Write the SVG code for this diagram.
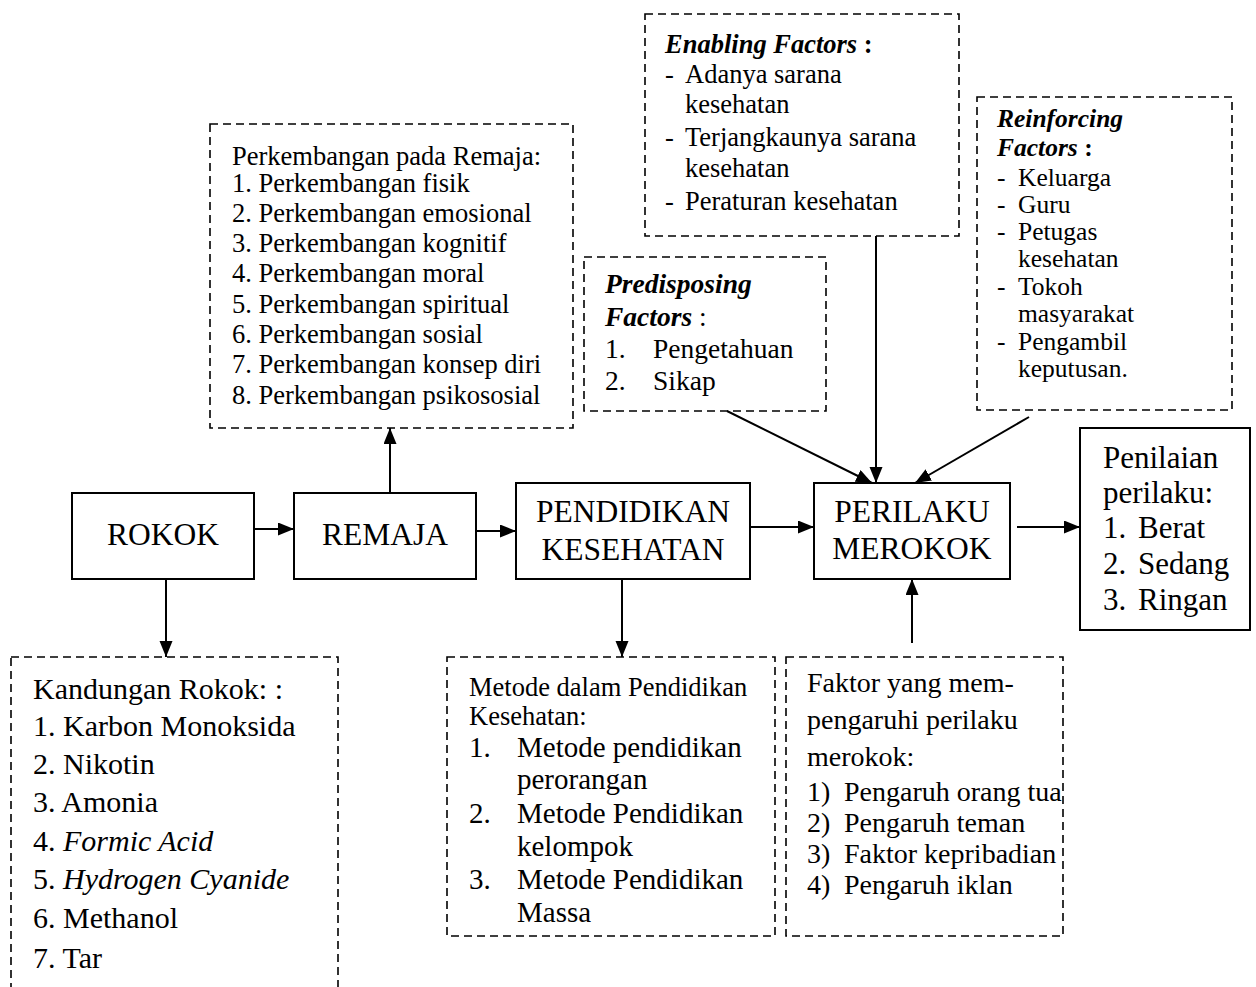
<svg xmlns="http://www.w3.org/2000/svg" width="1256" height="987" viewBox="0 0 1256 987">
<style>
text{font-family:"Liberation Serif","Times New Roman",serif;fill:#000}
.solid{fill:#fff;stroke:#000;stroke-width:2}
.dash{fill:#fff;stroke:#000;stroke-width:1.6;stroke-dasharray:8 5}
.lbl{font-size:31.5px;text-anchor:middle}
.bi{font-weight:bold;font-style:italic}
.b{font-weight:bold}
.i{font-style:italic}
.conn line{stroke:#000;stroke-width:2;marker-end:url(#ah)}
</style>
<defs>
<marker id="ah" markerUnits="userSpaceOnUse" markerWidth="17" markerHeight="14" refX="16" refY="6.5" orient="auto">
<path d="M0,0 L16,6.5 L0,13 z" fill="#000"/>
</marker>
</defs>
<rect width="1256" height="987" fill="#fff"/>

<g id="remaja-dev">
<rect class="dash" x="210" y="124" width="363" height="304"/>
<g style="font-size:26.5px">
<text x="232" y="165">Perkembangan pada Remaja:</text>
<text x="232" y="192">1. Perkembangan fisik</text>
<text x="232" y="222">2. Perkembangan emosional</text>
<text x="232" y="252">3. Perkembangan kognitif</text>
<text x="232" y="282">4. Perkembangan moral</text>
<text x="232" y="313">5. Perkembangan spiritual</text>
<text x="232" y="343">6. Perkembangan sosial</text>
<text x="232" y="373">7. Perkembangan konsep diri</text>
<text x="232" y="404">8. Perkembangan psikososial</text>
</g>
</g>

<g id="enabling">
<rect class="dash" x="645" y="14" width="314" height="222"/>
<g style="font-size:26.5px">
<text x="665" y="53"><tspan class="bi">Enabling Factors</tspan><tspan class="b"> :</tspan></text>
<text x="665" y="83">-</text><text x="685" y="83">Adanya sarana</text>
<text x="685" y="113">kesehatan</text>
<text x="665" y="146">-</text><text x="685" y="146">Terjangkaunya sarana</text>
<text x="685" y="177">kesehatan</text>
<text x="665" y="210">-</text><text x="685" y="210">Peraturan kesehatan</text>
</g>
</g>

<g id="predisposing">
<rect class="dash" x="584" y="257" width="242" height="154"/>
<g style="font-size:27.5px">
<text x="605" y="293" class="bi">Predisposing</text>
<text x="605" y="326"><tspan class="bi">Factors</tspan> :</text>
<text x="605" y="358">1.</text><text x="653" y="358">Pengetahuan</text>
<text x="605" y="390">2.</text><text x="653" y="390">Sikap</text>
</g>
</g>

<g id="reinforcing">
<rect class="dash" x="977" y="97" width="255" height="313"/>
<g style="font-size:25.5px">
<text x="997" y="127" class="bi">Reinforcing</text>
<text x="997" y="156"><tspan class="bi">Factors</tspan><tspan class="b"> :</tspan></text>
<text x="997" y="186">-</text><text x="1018" y="186">Keluarga</text>
<text x="997" y="213">-</text><text x="1018" y="213">Guru</text>
<text x="997" y="240">-</text><text x="1018" y="240">Petugas</text>
<text x="1018" y="267">kesehatan</text>
<text x="997" y="295">-</text><text x="1018" y="295">Tokoh</text>
<text x="1018" y="322">masyarakat</text>
<text x="997" y="350">-</text><text x="1018" y="350">Pengambil</text>
<text x="1018" y="377">keputusan.</text>
</g>
</g>

<g id="rokok">
<rect class="solid" x="72" y="493" width="182" height="86"/>
<text class="lbl" x="163" y="545">ROKOK</text>
</g>

<g id="remaja">
<rect class="solid" x="294" y="493" width="182" height="86"/>
<text class="lbl" x="385" y="545">REMAJA</text>
</g>

<g id="pendidikan">
<rect class="solid" x="516" y="483" width="234" height="96"/>
<text class="lbl" x="633" y="522">PENDIDIKAN</text>
<text class="lbl" x="633" y="560">KESEHATAN</text>
</g>

<g id="perilaku">
<rect class="solid" x="814" y="483" width="196" height="96"/>
<text class="lbl" x="912" y="522">PERILAKU</text>
<text class="lbl" x="912" y="559">MEROKOK</text>
</g>

<g id="penilaian">
<rect class="solid" x="1080" y="428" width="170" height="202"/>
<g style="font-size:31px">
<text x="1103" y="468">Penilaian</text>
<text x="1103" y="503">perilaku:</text>
<text x="1103" y="538">1.</text><text x="1138" y="538">Berat</text>
<text x="1103" y="574">2.</text><text x="1138" y="574">Sedang</text>
<text x="1103" y="610">3.</text><text x="1138" y="610">Ringan</text>
</g>
</g>

<g id="kandungan">
<rect class="dash" x="11" y="657" width="327" height="360"/>
<g style="font-size:30px">
<text x="33" y="699">Kandungan Rokok: :</text>
<text x="33" y="736">1. Karbon Monoksida</text>
<text x="33" y="774">2. Nikotin</text>
<text x="33" y="812">3. Amonia</text>
<text x="33" y="851">4. <tspan class="i">Formic Acid</tspan></text>
<text x="33" y="889">5. <tspan class="i">Hydrogen Cyanide</tspan></text>
<text x="33" y="928">6. Methanol</text>
<text x="33" y="968">7. Tar</text>
</g>
</g>

<g id="metode">
<rect class="dash" x="447" y="657" width="328" height="279"/>
<text x="469" y="696" style="font-size:26.5px">Metode dalam Pendidikan</text>
<text x="469" y="725" style="font-size:26.5px">Kesehatan:</text>
<g style="font-size:29px">
<text x="469" y="757">1.</text><text x="517" y="757">Metode pendidikan</text>
<text x="517" y="789">perorangan</text>
<text x="469" y="823">2.</text><text x="517" y="823">Metode Pendidikan</text>
<text x="517" y="856">kelompok</text>
<text x="469" y="889">3.</text><text x="517" y="889">Metode Pendidikan</text>
<text x="517" y="922">Massa</text>
</g>
</g>

<g id="faktor">
<rect class="dash" x="786" y="657" width="277" height="279"/>
<g style="font-size:28px">
<text x="807" y="692">Faktor yang mem-</text>
<text x="807" y="729">pengaruhi perilaku</text>
<text x="807" y="766">merokok:</text>
<text x="807" y="801">1)</text><text x="844" y="801">Pengaruh orang tua</text>
<text x="807" y="832">2)</text><text x="844" y="832">Pengaruh teman</text>
<text x="807" y="863">3)</text><text x="844" y="863">Faktor kepribadian</text>
<text x="807" y="894">4)</text><text x="844" y="894">Pengaruh iklan</text>
</g>
</g>

<g id="connectors" class="conn">
<line x1="254" y1="529" x2="294" y2="529"/>
<line x1="476" y1="531" x2="516" y2="531"/>
<line x1="750" y1="527" x2="814" y2="527"/>
<line x1="1017" y1="527" x2="1080" y2="527"/>
<line x1="390" y1="493" x2="390" y2="428"/>
<line x1="166" y1="579" x2="166" y2="657"/>
<line x1="622" y1="579" x2="622" y2="657"/>
<line x1="912" y1="643" x2="912" y2="579"/>
<line x1="727" y1="411" x2="872" y2="483"/>
<line x1="876" y1="236" x2="876" y2="483"/>
<line x1="1029" y1="417" x2="915" y2="483"/>
</g>
</svg>
